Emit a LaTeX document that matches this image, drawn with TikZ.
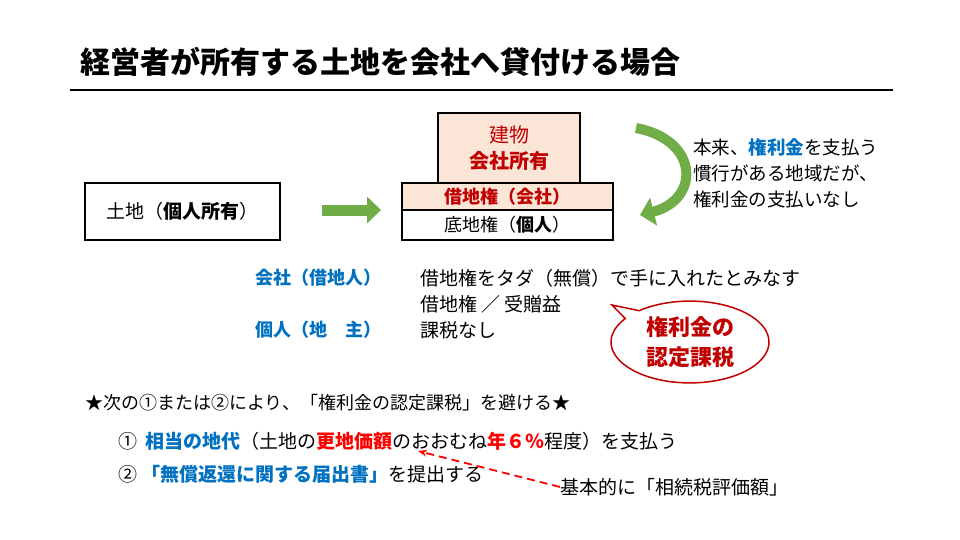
\documentclass[tikz,border=0pt]{standalone}
\usepackage{fontspec}
\setmainfont{Noto Sans CJK JP}
\usetikzlibrary{arrows.meta,shapes.callouts}
\definecolor{dred}{HTML}{C00000}
\definecolor{blu}{HTML}{0070C0}
\definecolor{peach}{HTML}{FBE5D6}
\definecolor{grn}{HTML}{70AD47}
\tikzset{t/.style={anchor=west,inner sep=0pt,font=\fontsize{19}{20}\selectfont},
 boxn/.style={draw,line width=1.2pt,inner sep=0pt}}
\begin{document}
\begin{tikzpicture}[x=1pt,y=-1pt]
\useasboundingbox (0,0) rectangle (960,540);
\node[anchor=west,inner sep=0pt,font=\fontsize{30}{32}\selectfont\bfseries] (title) at (80,62) {経営者が所有する土地を会社へ貸付ける場合};
\draw[line width=2pt] (70,90) -- (893,90);
\node[boxn,minimum width=195,minimum height=57,font=\fontsize{19}{20}\selectfont] (land) at (182.5,211.5) {土地（\textbf{個人所有}）};
\node[boxn,fill=peach,minimum width=142,minimum height=70,align=center,text=dred,font=\fontsize{20}{26}\selectfont] (bld) at (509,148) {建物\\\textbf{会社所有}};
\node[boxn,fill=peach,minimum width=211,minimum height=27,text=dred,font=\fontsize{18}{20}\selectfont\bfseries] (lease) at (507.5,196.5) {借地権（会社）};
\node[boxn,minimum width=211,minimum height=30,font=\fontsize{18}{20}\selectfont] (base) at (507.5,225) {底地権（\textbf{個人}）};
\coordinate (a1) at (322,210); \coordinate (a2) at (381,210);
\draw[grn,line width=11pt,-{Triangle[length=14pt,width=26pt]}] (a1) -- (a2);
\coordinate (c1) at (636,128); \coordinate (c2) at (640,215);
\draw[grn,line width=10pt,-{Triangle[length=14pt,width=28pt]}] (c1) .. controls (700,140) and (700,200) .. (c2);
\node[t,align=left,font=\fontsize{18.5}{26}\selectfont] (note) at (693,173) {本来、\textcolor{blu}{\textbf{権利金}}を支払う\\慣行がある地域だが、\\権利金の支払いなし};
\node[t,text=blu,font=\fontsize{18}{20}\selectfont\bfseries] (k1) at (255,278) {会社（借地人）};
\node[t,text=blu,font=\fontsize{18}{20}\selectfont\bfseries] (k2) at (255,330) {個人（地\quad 主）};
\node[t] (r1) at (420,278) {借地権をタダ（無償）で手に入れたとみなす};
\node[t] (r2) at (420,304) {借地権 ／ 受贈益};
\node[t] (r3) at (420,330) {課税なし};
\node[ellipse callout,draw=dred,line width=1.5pt,fill=white,minimum width=158,minimum height=78,callout absolute pointer={(612,305)},align=center,text=dred,font=\fontsize{22}{30}\selectfont\bfseries] (call) at (690,342) {権利金の\\認定課税};
\node[t,font=\fontsize{18}{20}\selectfont] (star) at (85,403) {★次の①または②により、「権利金の認定課税」を避ける★};
\node[t] (i1) at (118,441) {①\ \ \textcolor{blu}{\textbf{相当の地代}}（土地の\textcolor{red}{\textbf{更地価額}}のおおむね\textcolor{red}{\textbf{年６％}}程度）を支払う};
\node[t] (i2) at (118,474) {②\ \textcolor{blu}{\textbf{「無償返還に関する届出書」}}を提出する};
\node[t] (basis) at (560,487) {基本的に「相続税評価額」};
\coordinate (d1) at (418,451);
\draw[red,dash pattern=on 8pt off 5pt,line width=1.8pt,-{Stealth[length=9pt]}] (basis.west) -- (d1);
\end{tikzpicture}
\end{document}
